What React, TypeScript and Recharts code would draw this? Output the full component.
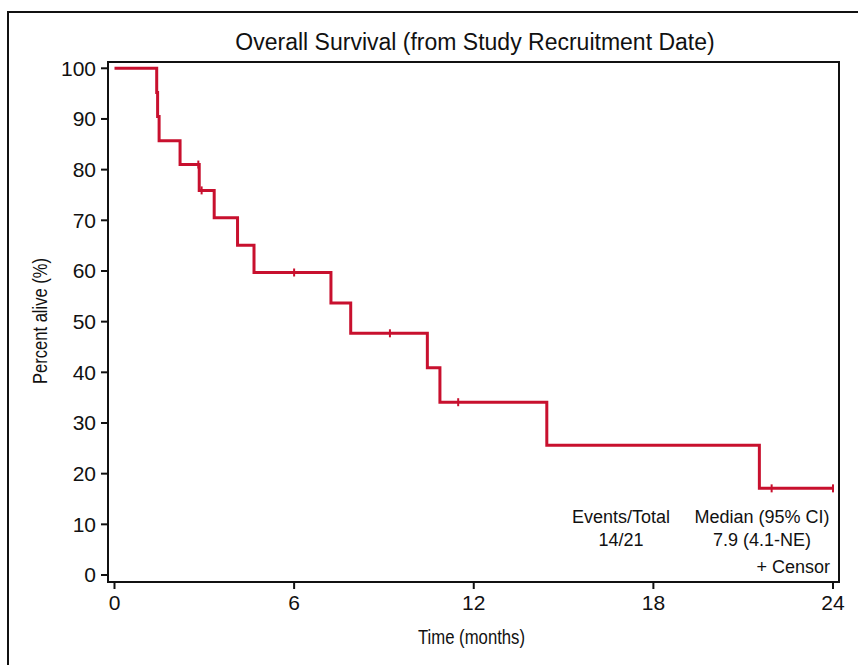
import {
  ComposedChart,
  Line,
  Scatter,
  XAxis,
  YAxis,
  ReferenceArea,
  Label,
} from "recharts";

// Kaplan-Meier step points (time in months, percent alive)
const stepTimes = [0, 1.41, 1.44, 1.49, 2.19, 2.83, 3.33, 4.11, 4.66, 7.23, 7.89, 10.45, 10.87, 14.44, 21.54, 24.0];
const stepSurvival = [100, 95.2, 90.5, 85.7, 81.0, 75.9, 70.5, 65.1, 59.7, 53.7, 47.7, 40.9, 34.1, 25.6, 17.1, 17.1];

// censored observations
const censorTimes = [2.8, 2.91, 6.0, 9.2, 11.48, 21.95, 24.0];
const censorSurvival = [81.0, 75.9, 59.7, 47.7, 34.1, 17.1, 17.1];

const xTicks = [0, 6, 12, 18, 24];
const yTicks = [0, 10, 20, 30, 40, 50, 60, 70, 80, 90, 100];

const RED = "#c8102e";
const INK = "#111";
const FONT = "'Liberation Sans', Arial, sans-serif";

const X_DOMAIN: [number, number] = [-0.217, 24.2];
const Y_DOMAIN: [number, number] = [-1.38, 101.24];

const stepData = stepTimes.map((t, i) => ({ time: t, pct: stepSurvival[i] }));
const censorData = censorTimes.map((t, i) => ({ time: t, pct: censorSurvival[i] }));

const CensorMark = (props: any) => {
  const { cx, cy } = props;
  if (cx == null || cy == null) return null;
  return <line x1={cx} y1={cy - 4} x2={cx} y2={cy + 4} stroke={RED} strokeWidth={2} />;
};

const YLabel = () => {
  const cy = 321;
  return (
    <text
      x={41}
      y={cy}
      transform={`rotate(-90, 41, ${cy})`}
      textAnchor="middle"
      dominantBaseline="middle"
      fontFamily={FONT}
      fontSize={21}
      textLength={126}
      lengthAdjust="spacingAndGlyphs"
      fill={INK}
    >
      Percent alive (%)
    </text>
  );
};

const XLabel = (props: any) => {
  const { viewBox } = props;
  const cx = viewBox.x + viewBox.width / 2 - 2;
  return (
    <text
      x={cx}
      y={644}
      textAnchor="middle"
      fontFamily={FONT}
      fontSize={20}
      textLength={107}
      lengthAdjust="spacingAndGlyphs"
      fill={INK}
    >
      Time (months)
    </text>
  );
};

const textStyle = {
  position: "absolute" as const,
  fontFamily: FONT,
  color: INK,
  whiteSpace: "nowrap" as const,
  lineHeight: 1,
};

export default function App() {
  return (
    <div
      style={{
        position: "fixed",
        left: 0,
        top: 0,
        width: 858,
        height: 665,
        overflow: "hidden",
        background: "#fff",
      }}
    >
      <div
        style={{
          position: "absolute",
          left: 7,
          top: 11,
          width: 900,
          height: 700,
          borderLeft: `2px solid ${INK}`,
          borderTop: `2px solid ${INK}`,
        }}
      />
      <ComposedChart
        width={858}
        height={665}
        data={stepData}
        margin={{ top: 62, right: 19, bottom: 53, left: 8 }}
        style={{ position: "absolute", left: 0, top: 0 }}
      >
        <XAxis
          dataKey="time"
          type="number"
          domain={X_DOMAIN}
          ticks={xTicks}
          allowDataOverflow
          height={30}
          axisLine={false}
          tickLine={{ stroke: INK, strokeWidth: 2 }}
          tickSize={7}
          tickMargin={6}
          tick={{ fill: INK, fontFamily: FONT, fontSize: 21 }}
          interval={0}
        >
          <Label content={<XLabel />} />
        </XAxis>
        <YAxis
          type="number"
          domain={Y_DOMAIN}
          ticks={yTicks}
          allowDataOverflow
          width={100}
          axisLine={false}
          tickLine={{ stroke: INK, strokeWidth: 2 }}
          tickSize={7}
          tickMargin={5}
          tick={{ fill: INK, fontFamily: FONT, fontSize: 21 }}
          interval={0}
          label={<YLabel />}
        />
        <ReferenceArea
          x1={X_DOMAIN[0]}
          x2={X_DOMAIN[1]}
          y1={Y_DOMAIN[0]}
          y2={Y_DOMAIN[1]}
          fill="none"
          stroke={INK}
          strokeWidth={2}
          ifOverflow="visible"
        />
        <Line
          dataKey="pct"
          type="stepAfter"
          stroke={RED}
          strokeWidth={3}
          dot={false}
          activeDot={false}
          isAnimationActive={false}
        />
        <Scatter
          data={censorData}
          dataKey="pct"
          shape={<CensorMark />}
          isAnimationActive={false}
        />
      </ComposedChart>

      <div style={{ ...textStyle, left: 0, width: 950, top: 31, textAlign: "center", fontSize: 23 }}>
        Overall Survival (from Study Recruitment Date)
      </div>

      <div style={{ ...textStyle, left: 521, width: 200, top: 508, textAlign: "center", fontSize: 18 }}>
        Events/Total
      </div>
      <div style={{ ...textStyle, left: 521, width: 200, top: 531, textAlign: "center", fontSize: 18 }}>
        14/21
      </div>
      <div style={{ ...textStyle, left: 662, width: 200, top: 508, textAlign: "center", fontSize: 18 }}>
        Median (95% CI)
      </div>
      <div style={{ ...textStyle, left: 662, width: 200, top: 531, textAlign: "center", fontSize: 18 }}>
        7.9 (4.1-NE)
      </div>
      <div style={{ ...textStyle, left: 630, width: 200, top: 558, textAlign: "right", fontSize: 18 }}>
        + Censor
      </div>
    </div>
  );
}
